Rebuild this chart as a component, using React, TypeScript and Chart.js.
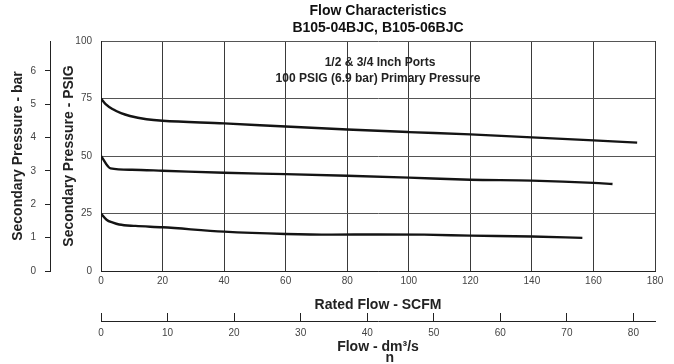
import React, { useEffect, useRef } from "react";
import { Chart, registerables } from "chart.js";

Chart.register(...registerables);

// ---- data ----
const titleLines = ["Flow Characteristics", "B105-04BJC, B105-06BJC"];
const noteLines = ["1/2 & 3/4 Inch Ports", "100 PSIG (6.9 bar) Primary Pressure"];

const flow75 = [0, 1.5, 3.9, 6.5, 9.4, 14.8, 20, 40, 60, 80, 100, 120, 140, 160, 174.2];
const psig75 = [75, 72.6, 70.3, 68.6, 67.4, 66.0, 65.3, 64.2, 62.8, 61.5, 60.4, 59.4, 58.1, 56.8, 55.8];

const flow50 = [0, 3.1, 10, 20, 40, 60, 80, 100, 120, 140, 160, 166.2];
const psig50 = [50, 44.6, 44.0, 43.6, 42.7, 42.1, 41.4, 40.6, 39.7, 39.3, 38.3, 37.8];

const flow25 = [0, 1.8, 3.9, 5.9, 11.2, 20, 40, 60, 75, 90, 105, 120, 140, 156.4];
const psig25 = [25, 22.3, 21.0, 20.2, 19.6, 19.0, 17.1, 16.1, 15.8, 15.9, 15.8, 15.4, 15.0, 14.4];

const scfmMax = 180;
const scfmStep = 20;
const psigMax = 100;
const psigStep = 25;
const barMax = 100 / 14.5038; // 100 PSIG in bar
const barStep = 1;
const dmMax = 83.24; // dm3/s equivalent of the SCFM axis range as drawn
const dmStep = 10;

const FONT = "'Liberation Sans', Arial, Helvetica, sans-serif";

function pts(xs: number[], ys: number[]) {
  return xs.map((x, i) => ({ x, y: ys[i] }));
}

const notePlugin = {
  id: "notePlugin",
  afterDraw(chart: any) {
    const { ctx, scales } = chart;
    const cx = scales.x.getPixelForValue(90);
    const y1 = scales.y.getPixelForValue(90.4);
    const y2 = scales.y.getPixelForValue(83.5);
    ctx.save();
    ctx.font = `bold 12px ${FONT}`;
    ctx.fillStyle = "#222";
    ctx.textAlign = "center";
    ctx.textBaseline = "middle";
    ctx.fillText(noteLines[0], cx + 2, y1);
    ctx.fillText(noteLines[1], cx, y2);
    ctx.restore();
  },
};

export default function App() {
  const ref = useRef<HTMLCanvasElement | null>(null);

  useEffect(() => {
    if (!ref.current) return;
    const lineStyle = {
      borderColor: "#141414",
      borderWidth: 2.4,
      pointRadius: 0,
      fill: false,
      cubicInterpolationMode: "monotone" as const,
    };
    const chart = new Chart(ref.current, {
      type: "line",
      data: {
        datasets: [
          { label: "75", data: pts(flow75, psig75), ...lineStyle },
          { label: "50", data: pts(flow50, psig50), ...lineStyle },
          { label: "25", data: pts(flow25, psig25), ...lineStyle },
        ],
      },
      options: {
        responsive: false,
        animation: false,
        devicePixelRatio: 1,
        layout: { padding: { left: 0, right: 19, top: 0, bottom: 0 } },
        plugins: {
          legend: { display: false },
          tooltip: { enabled: false },
          title: {
            display: true,
            text: titleLines,
            fullSize: false,
            color: "#111",
            font: { family: FONT, size: 14, weight: "bold", lineHeight: 1.2 },
            padding: { top: 3, bottom: 4.4 },
          },
        },
        scales: {
          x: {
            type: "linear",
            position: "bottom",
            weight: 0,
            min: 0,
            max: scfmMax,
            afterFit: (s: any) => {
              s.height = 50;
            },
            ticks: {
              stepSize: scfmStep,
              color: "#444",
              font: { family: FONT, size: 10 },
              padding: 4,
              maxRotation: 0,
            },
            grid: { color: "#3a3a3a", lineWidth: 1, drawTicks: false },
            border: { display: true, color: "#222", width: 1 },
            title: {
              display: true,
              text: "Rated Flow - SCFM",
              color: "#222",
              font: { family: FONT, size: 14, weight: "bold", lineHeight: 1.2 },
              padding: { top: 0, bottom: 7 },
            },
          },
          x2: {
            type: "linear",
            position: "bottom",
            weight: 1,
            min: 0,
            max: dmMax,
            afterFit: (s: any) => {
              s.height = 43;
            },
            ticks: {
              stepSize: dmStep,
              includeBounds: false,
              color: "#444",
              font: { family: FONT, size: 10 },
              padding: 14,
              maxRotation: 0,
            },
            grid: { drawOnChartArea: false, drawTicks: true, tickLength: -8, color: "#222", lineWidth: 1 },
            border: { display: true, color: "#222", width: 1 },
            title: {
              display: true,
              text: ["Flow - dm³/s", "      n"],
              color: "#222",
              font: { family: FONT, size: 14, weight: "bold", lineHeight: 0.8 },
              padding: { top: 0, bottom: 0 },
            },
          },
          y: {
            type: "linear",
            position: "left",
            weight: 0,
            min: 0,
            max: psigMax,
            afterFit: (s: any) => {
              s.width = 51;
            },
            ticks: {
              stepSize: psigStep,
              color: "#444",
              font: { family: FONT, size: 10 },
              padding: 9,
            },
            grid: { color: "#555", lineWidth: 1, drawTicks: false },
            border: { display: true, color: "#222", width: 1 },
            title: {
              display: true,
              text: "Secondary Pressure - PSIG",
              color: "#222",
              font: { family: FONT, size: 14, weight: "bold", lineHeight: 1.2 },
              padding: { top: 10.6, bottom: 0 },
            },
          },
          y2: {
            type: "linear",
            position: "left",
            weight: 1,
            min: 0,
            max: barMax,
            afterFit: (s: any) => {
              s.width = 50;
            },
            ticks: {
              stepSize: barStep,
              includeBounds: false,
              color: "#444",
              font: { family: FONT, size: 10 },
              padding: 9,
            },
            grid: { drawOnChartArea: false, drawTicks: true, tickLength: 5, color: "#222", lineWidth: 1 },
            border: { display: true, color: "#222", width: 1 },
            title: {
              display: true,
              text: "Secondary Pressure - bar",
              color: "#222",
              font: { family: FONT, size: 14, weight: "bold", lineHeight: 1.2 },
              padding: { top: 9.6, bottom: 0 },
            },
          },
        },
      },
      plugins: [notePlugin],
    });
    return () => chart.destroy();
  }, []);

  return (
    <div style={{ position: "fixed", left: 0, top: 0, width: 674, height: 364, background: "#fff" }}>
      <canvas ref={ref} width={674} height={364} style={{ display: "block" }} />
    </div>
  );
}
